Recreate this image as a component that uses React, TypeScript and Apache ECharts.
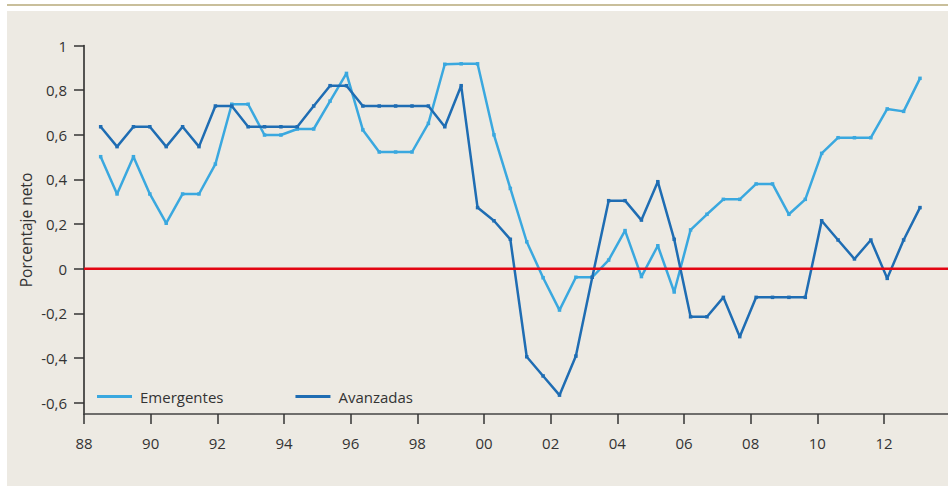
import React, { useEffect, useRef } from "react";
import * as echarts from "echarts";

// Semiannual observations (hidden category axis)
const periods = [
  "1988-S2",
  "1989-S1", "1989-S2", "1990-S1", "1990-S2", "1991-S1", "1991-S2", "1992-S1", "1992-S2",
  "1993-S1", "1993-S2", "1994-S1", "1994-S2", "1995-S1", "1995-S2", "1996-S1", "1996-S2",
  "1997-S1", "1997-S2", "1998-S1", "1998-S2", "1999-S1", "1999-S2", "2000-S1", "2000-S2",
  "2001-S1", "2001-S2", "2002-S1", "2002-S2", "2003-S1", "2003-S2", "2004-S1", "2004-S2",
  "2005-S1", "2005-S2", "2006-S1", "2006-S2", "2007-S1", "2007-S2", "2008-S1", "2008-S2",
  "2009-S1", "2009-S2", "2010-S1", "2010-S2", "2011-S1", "2011-S2", "2012-S1", "2012-S2",
  "2013-S1", "2013-S2",
];

const emergentes = [
  0.502, 0.335, 0.502, 0.335, 0.204, 0.335, 0.335, 0.469, 0.737, 0.737,
  0.599, 0.599, 0.626, 0.626, 0.751, 0.875, 0.622, 0.523, 0.523, 0.523,
  0.651, 0.916, 0.918, 0.918, 0.6, 0.36, 0.121, -0.04, -0.185, -0.038,
  -0.038, 0.039, 0.171, -0.035, 0.103, -0.104, 0.174, 0.244, 0.311, 0.311,
  0.38, 0.38, 0.244, 0.311, 0.517, 0.587, 0.587, 0.587, 0.716, 0.705,
  0.853,
];

const avanzadas = [
  0.636, 0.547, 0.636, 0.636, 0.547, 0.636, 0.547, 0.729, 0.729, 0.636,
  0.636, 0.636, 0.636, 0.729, 0.82, 0.82, 0.729, 0.729, 0.729, 0.729,
  0.729, 0.636, 0.82, 0.274, 0.215, 0.132, -0.394, -0.48, -0.566, -0.391,
  -0.038, 0.305, 0.305, 0.218, 0.39, 0.132, -0.215, -0.215, -0.128, -0.304,
  -0.128, -0.128, -0.128, -0.128, 0.215, 0.129, 0.044, 0.129, -0.043, 0.129,
  0.274,
];

const yearTicks = [1988, 1990, 1992, 1994, 1996, 1998, 2000, 2002, 2004, 2006, 2008, 2010, 2012];
const yTicks = [-0.6, -0.4, -0.2, 0, 0.2, 0.4, 0.6, 0.8, 1];

const W = 948;
const H = 487;
const FONT = "'Open Sans', 'Noto Sans', sans-serif";
const TEXT = "#333333";
const C_EM = "#3aa8df";
const C_AV = "#1f6db3";

export default function App() {
  const ref = useRef<HTMLDivElement>(null);

  useEffect(() => {
    if (!ref.current) return;
    const chart = echarts.init(ref.current, undefined, { renderer: "svg" });
    const yMin = -0.65;
    const yMax = 1;
    const gridTop = 45.5;
    const gridBottom = 73.1;
    const xMax = 1988 + (W - 84) / 33.333;
    chart.setOption({
      animation: false,
      backgroundColor: "#ffffff",
      textStyle: { fontFamily: FONT },
      graphic: [
        {
          type: "rect",
          z: -10,
          silent: true,
          shape: { x: 7, y: 11, width: W - 7, height: 475 },
          style: { fill: "#edeae3" },
        },
        {
          type: "line",
          z: -10,
          silent: true,
          shape: { x1: 7, y1: 5, x2: W, y2: 5 },
          style: { stroke: "#c9bf9b", lineWidth: 2 },
        },
        {
          type: "text",
          x: 26,
          y: 230,
          rotation: Math.PI / 2,
          style: {
            text: "Porcentaje neto",
            fill: TEXT,
            font: `15.5px ${FONT}`,
            align: "center",
            verticalAlign: "middle",
          },
        },
      ],
      legend: {
        left: 97,
        top: 389,
        padding: 0,
        itemWidth: 35,
        itemHeight: 3,
        itemGap: 72,
        icon: "rect",
        textStyle: { color: TEXT, fontSize: 15, fontFamily: FONT, padding: [0, 0, 0, 3] },
        data: ["Emergentes", "Avanzadas"],
      },
      grid: [
        { left: 84, right: 0, top: gridTop, bottom: gridBottom },
        { left: 100.67, right: 28, top: gridTop, bottom: gridBottom },
      ],
      xAxis: [
        {
          type: "value",
          gridIndex: 0,
          min: 1988,
          max: xMax,
          splitLine: { show: false },
          axisLine: { show: true, onZero: false, lineStyle: { color: "#444444", width: 1.5 } },
          axisTick: {
            show: true,
            length: 10,
            customValues: yearTicks,
            lineStyle: { color: "#333333", width: 1.5 },
          },
          axisLabel: {
            customValues: yearTicks,
            margin: 21.5,
            color: TEXT,
            fontSize: 15,
            fontFamily: FONT,
            formatter: (v: number) => String(Math.round(v) % 100).padStart(2, "0"),
          },
        },
        {
          type: "category",
          gridIndex: 1,
          data: periods,
          boundaryGap: false,
          show: false,
        },
      ],
      yAxis: [
        {
          type: "value",
          gridIndex: 0,
          min: yMin,
          max: yMax,
          splitLine: { show: false },
          axisLine: { show: true, onZero: false, lineStyle: { color: "#222222", width: 1.5 } },
          axisTick: {
            show: true,
            length: 10,
            customValues: yTicks,
            lineStyle: { color: "#333333", width: 1.5 },
          },
          axisLabel: {
            customValues: yTicks,
            margin: 17,
            color: TEXT,
            fontSize: 15,
            fontFamily: FONT,
            formatter: (v: number) =>
              Math.abs(v) < 1e-9 ? "0" : Math.abs(v - 1) < 1e-9 ? "1" : v.toFixed(1).replace(".", ","),
          },
        },
        {
          type: "value",
          gridIndex: 1,
          min: yMin,
          max: yMax,
          show: false,
          splitLine: { show: false },
        },
      ],
      series: [
        {
          name: "Emergentes",
          type: "line",
          xAxisIndex: 1,
          yAxisIndex: 1,
          data: emergentes,
          color: C_EM,
          symbol: "rect",
          symbolSize: 3.5,
          showSymbol: true,
          lineStyle: { width: 2.5, color: C_EM },
          itemStyle: { color: C_EM },
          z: 3,
        },
        {
          name: "Avanzadas",
          type: "line",
          xAxisIndex: 1,
          yAxisIndex: 1,
          data: avanzadas,
          color: C_AV,
          symbol: "rect",
          symbolSize: 3.5,
          showSymbol: true,
          lineStyle: { width: 2.5, color: C_AV },
          itemStyle: { color: C_AV },
          z: 4,
        },
        {
          name: "cero",
          type: "line",
          xAxisIndex: 0,
          yAxisIndex: 0,
          data: [
            [1988, 0],
            [xMax, 0],
          ],
          symbol: "none",
          silent: true,
          lineStyle: { width: 2.5, color: "#e30613" },
          z: 5,
        },
      ],
    });
    return () => chart.dispose();
  }, []);

  return (
    <div
      ref={ref}
      style={{ position: "absolute", left: 0, top: 0, width: W, height: H }}
    />
  );
}
